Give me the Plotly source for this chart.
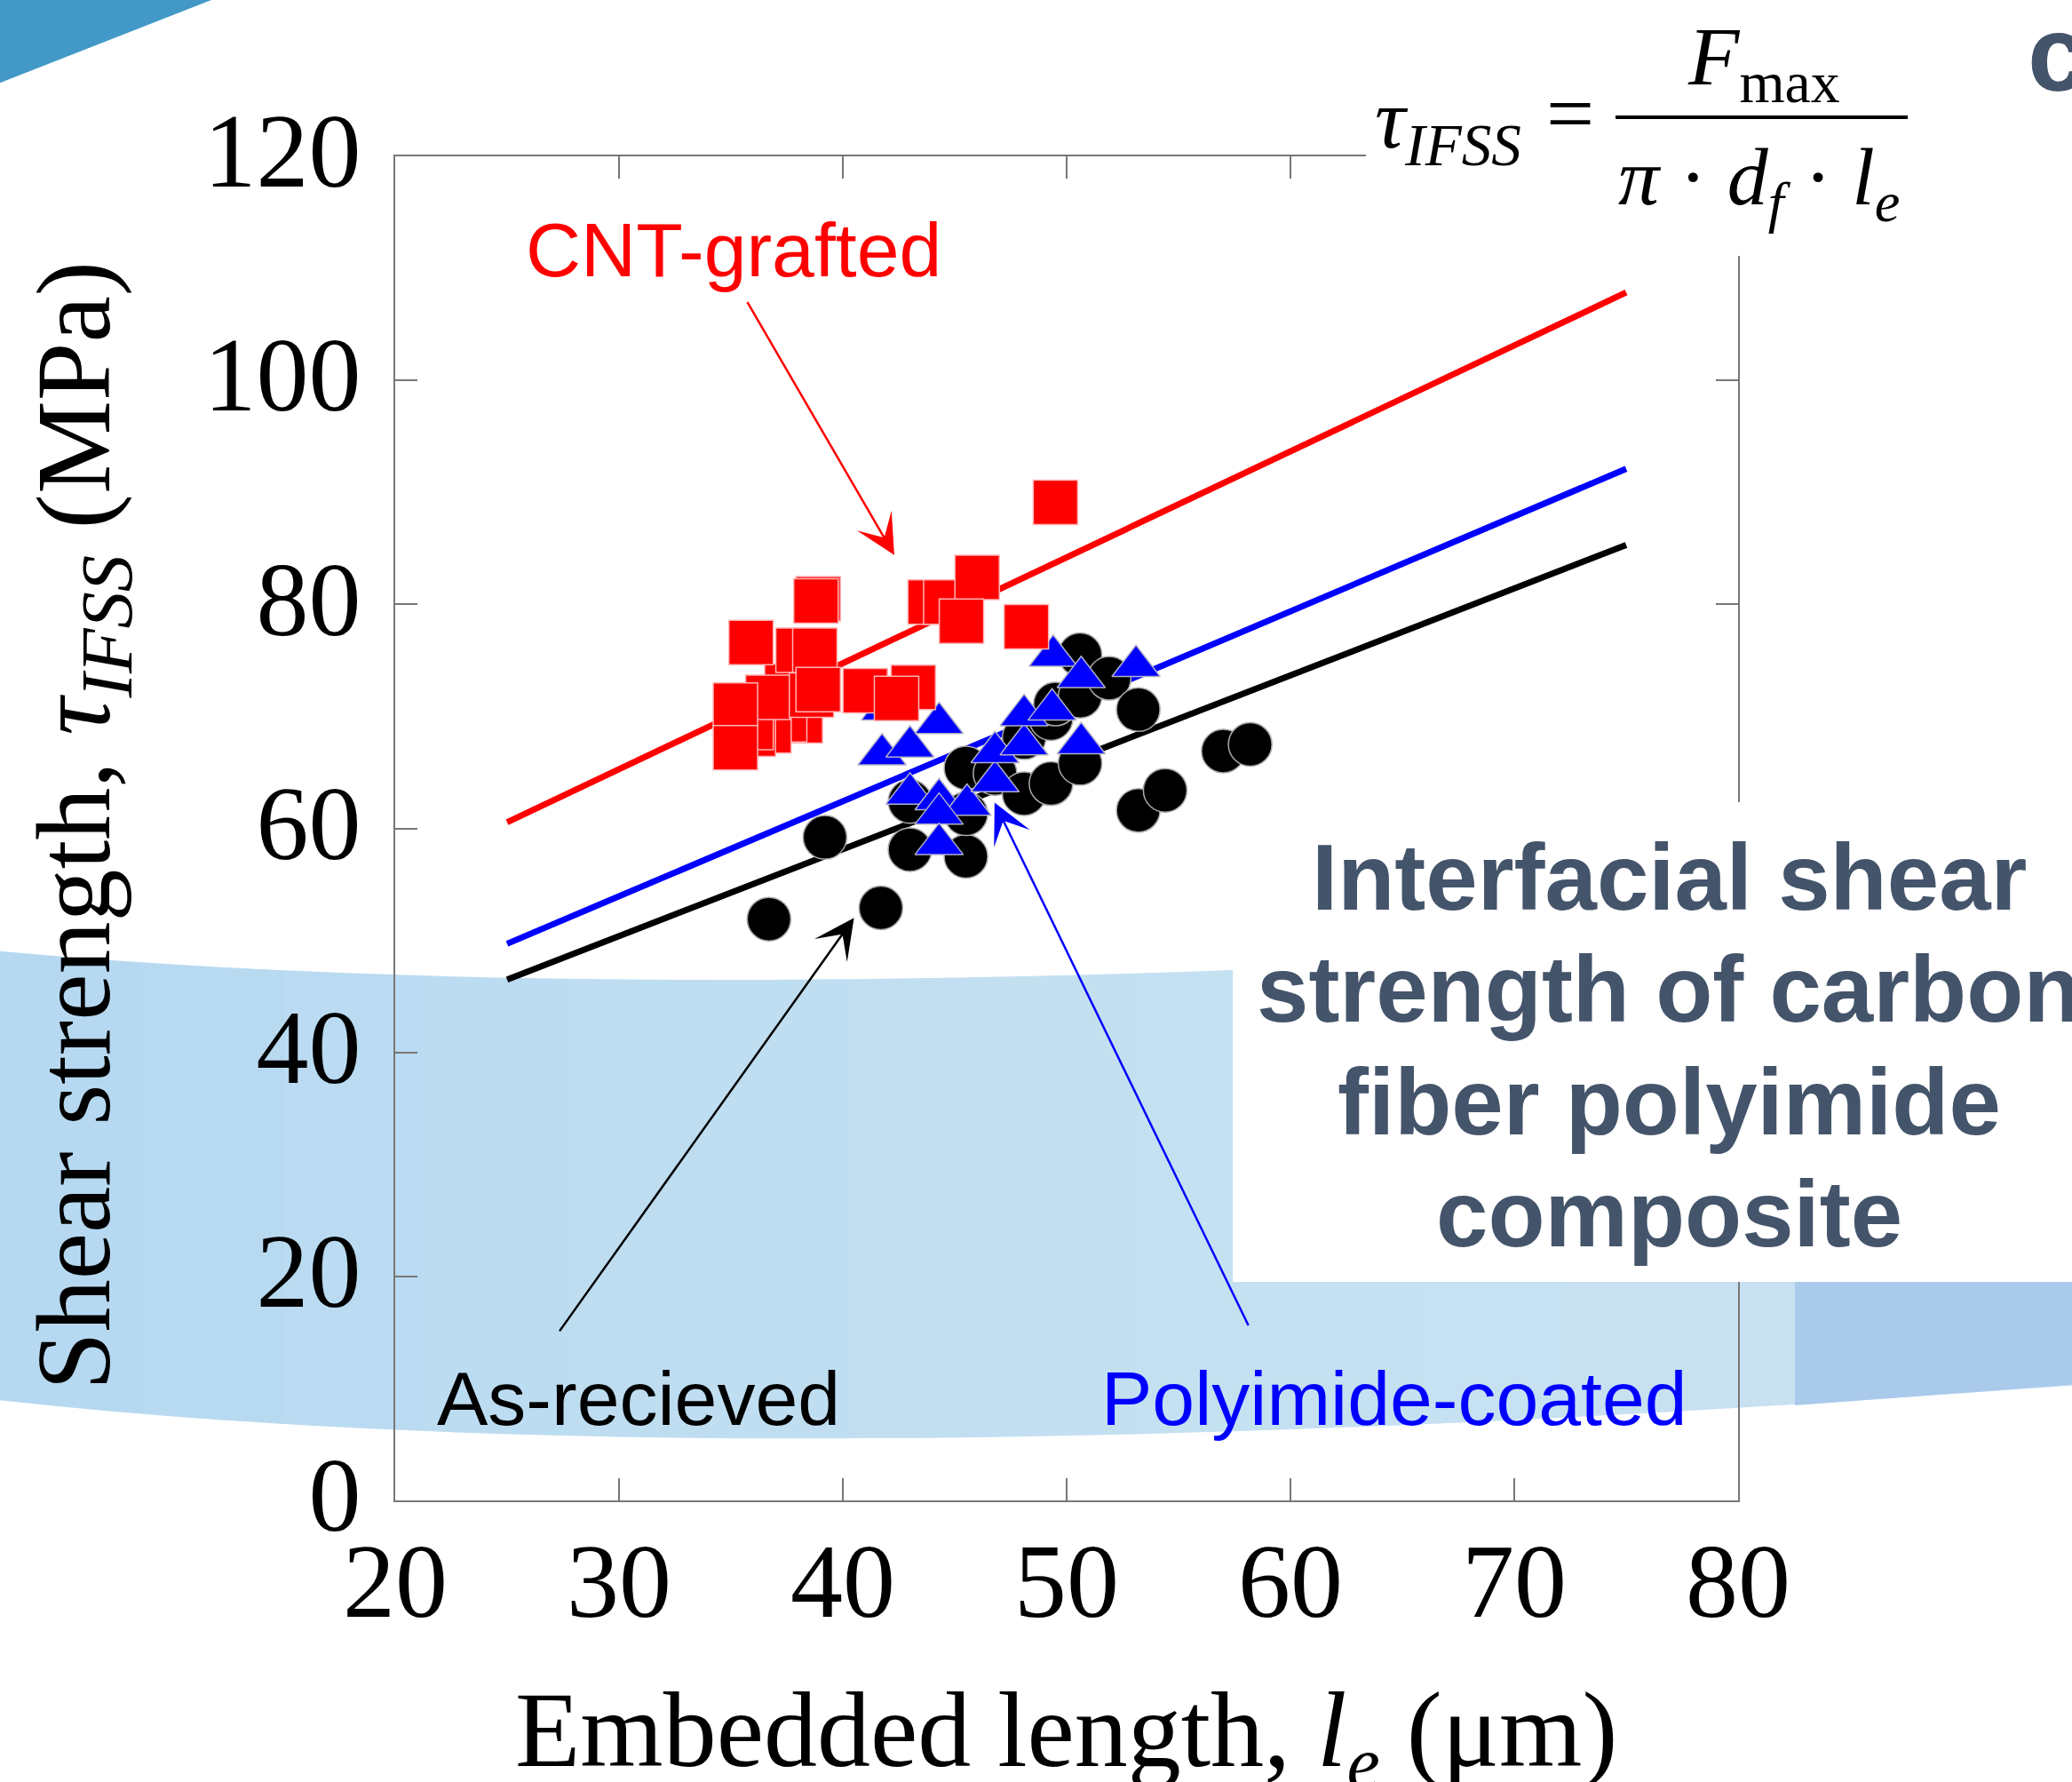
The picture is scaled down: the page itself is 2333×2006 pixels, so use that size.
import plotly.graph_objects as go

# ---------------- data ----------------
fit_x = [25, 75]
fit_red = [60.55, 107.85]
fit_blue = [49.7, 92.1]
fit_black = [46.5, 85.3]

as_received_x = [36.7, 41.7, 39.2, 43.0, 45.5, 43.0, 45.5, 45.5, 46.8, 48.1, 49.3, 50.6,
                 48.1, 49.3, 49.5, 50.6, 50.6, 51.9, 53.2, 53.2, 54.4, 57.0, 58.2]
as_received_y = [51.9, 52.9, 59.2, 58.1, 57.5, 62.4, 61.3, 65.4, 64.9, 63.1, 64.0, 65.8,
                 68.1, 69.8, 71.1, 71.8, 75.5, 73.4, 70.6, 61.6, 63.4, 66.9, 67.5]

polyimide_x = [41.9, 41.75, 43.0, 44.3, 43.0, 44.3, 45.55, 44.3, 44.3, 46.8, 46.8, 48.1,
               48.1, 49.35, 50.65, 49.4, 50.65, 53.1]
polyimide_y = [70.6, 66.6, 67.3, 69.4, 63.1, 62.6, 62.1, 61.3, 58.6, 64.2, 66.8, 67.5,
               70.1, 70.6, 67.6, 75.4, 73.5, 74.5]

cnt_x = [38.1, 37.4, 36.7, 36.0, 35.9, 37.5, 36.65, 35.2, 35.2, 35.9, 38.0, 38.75, 38.9,
         38.8, 38.6, 38.9, 41.0, 43.15, 42.4, 43.9, 44.6, 46.0, 45.3, 48.2, 49.5]
cnt_y = [69.6, 69.7, 68.7, 68.4, 69.0, 72.7, 71.7, 71.0, 67.2, 76.6, 75.9, 75.9, 80.5,
         80.3, 71.9, 72.4, 72.3, 72.6, 71.6, 80.2, 80.2, 82.4, 78.5, 78.0, 89.1]

x_ticks = [20, 30, 40, 50, 60, 70, 80]
y_ticks = [0, 20, 40, 60, 80, 100, 120]

# arrows: (tip_x, tip_y, tail_x, tail_y)
arrow_cnt = (42.3, 84.4, 35.7, 107.1)
arrow_asr = (40.5, 52.0, 27.3, 15.0)
arrow_pi = (46.78, 62.3, 58.15, 15.5)

# ---------------- geometry helpers (pixel -> paper) ----------------
W, H = 2333, 2006
L, R, T, B = 445, 1957, 176, 1689   # plot area in pixels


def px(x):
    return (x - L) / (R - L)


def py(y):
    return (B - y) / (B - T)


def pt(x, y):
    return f"{px(x):.5f},{py(y):.5f}"


fig = go.Figure()

for ys, col in [(fit_red, "#ff0000"), (fit_blue, "#0000ff"), (fit_black, "#000000")]:
    fig.add_trace(go.Scatter(x=fit_x, y=ys, mode="lines",
                             line=dict(color=col, width=7),
                             hoverinfo="skip", showlegend=False))

fig.add_trace(go.Scatter(x=as_received_x, y=as_received_y, mode="markers",
                         marker=dict(symbol="circle", size=49, color="#000000",
                                     line=dict(color="#a8a8a8", width=1.5)),
                         showlegend=False))
fig.add_trace(go.Scatter(x=polyimide_x, y=polyimide_y, mode="markers",
                         marker=dict(symbol="triangle-up", size=47, color="#0000ff",
                                     line=dict(color="#b0b0c8", width=1.5)),
                         showlegend=False))
fig.add_trace(go.Scatter(x=cnt_x, y=cnt_y, mode="markers",
                         marker=dict(symbol="square", size=50, color="#ff0000",
                                     line=dict(color="#ffb4b4", width=1.5)),
                         showlegend=False))

shapes = []
# top-left triangle
shapes.append(dict(type="path", xref="paper", yref="paper", layer="below",
                   path=f"M{pt(-20,-20)} L{pt(280,-20)} L{pt(238,0)} L{pt(-20,101)} Z",
                   fillcolor="#4299c8", line=dict(width=0)))
# light blue curved band
band = (f"M{pt(-20,1069)} Q{pt(834,1150)} {pt(2353,1038)} "
        f"L{pt(2353,1558)} Q{pt(834,1672)} {pt(-20,1574)} Z")
shapes.append(dict(type="path", xref="paper", yref="paper", layer="below",
                   path=band, fillcolor="#b6d9f1", line=dict(width=0)))
# gradient lightening
for i in range(1, 13):
    shapes.append(dict(type="rect", xref="paper", yref="paper", layer="below",
                       x0=px(i * 160), x1=px(2021), y0=py(1690), y1=py(1020),
                       fillcolor="white", opacity=0.03, line=dict(width=0)))
# darker blue region on the right
shapes.append(dict(type="path", xref="paper", yref="paper", layer="below",
                   path=f"M{pt(2021,1300)} L{pt(2353,1300)} L{pt(2353,1557)} L{pt(2021,1582)} Z",
                   fillcolor="#aacaeb", line=dict(width=0)))
# white text box
shapes.append(dict(type="rect", xref="paper", yref="paper", layer="above",
                   x0=px(1388), x1=px(2400), y0=py(1443), y1=py(903),
                   fillcolor="white", line=dict(width=0)))
# white formula box
shapes.append(dict(type="rect", xref="paper", yref="paper", layer="above",
                   x0=px(1538), x1=px(2268), y0=py(288), y1=py(-20),
                   fillcolor="white", line=dict(width=0)))
# fraction bar
shapes.append(dict(type="line", xref="paper", yref="paper", layer="above",
                   x0=px(1819), x1=px(2148), y0=py(132), y1=py(132),
                   line=dict(color="black", width=4)))

serif = "Liberation Serif"
sans = "Liberation Sans"
ann = []


def text(x, y, s, size, color="black", family=serif, xanchor="center", yanchor="middle", angle=0):
    ann.append(dict(x=px(x), y=py(y), xref="paper", yref="paper", text=s, showarrow=False,
                    font=dict(family=family, size=size, color=color),
                    xanchor=xanchor, yanchor=yanchor, textangle=angle))


# axis titles
text(1200, 1956, "Embedded length, <i>l</i><sub><i>e</i></sub> (μm)", 120)
text(92, 930, "Shear strength, <i>τ</i><sub><i>IFSS</i></sub> (MPa)", 118, angle=-90)

# series labels
text(826, 281, "CNT-grafted", 86, "#ff0000", sans)
text(719, 1574, "As-recieved", 86, "#000000", sans)
text(1570, 1574, "Polyimide-coated", 86, "#0000ff", sans)

# description
desc_col = "#44546a"
for s, yb in [("Interfacial shear", 1024), ("strength of carbon", 1150),
              ("fiber polyimide", 1277), ("composite", 1403)]:
    text(1879, yb - 37, f"<b>{s}</b>", 105, desc_col, sans)
text(2281, 60, "<b>c</b>", 120, desc_col, sans, xanchor="left")

# formula
text(1546, 140, "<i>τ</i><sub><i>IFSS</i></sub>", 96, xanchor="left")
text(1768, 128, "=", 96)
text(1986, 70, "<i>F</i><sub>max</sub>", 94)
text(1980, 206, "<i>π</i> · <i>d</i><sub><i>f</i></sub> · <i>l</i><sub><i>e</i></sub>", 92)

# arrows
for (tx, ty, sx, sy), col in [(arrow_cnt, "#ff0000"), (arrow_asr, "#000000"), (arrow_pi, "#0000ff")]:
    ann.append(dict(x=tx, y=ty, xref="x", yref="y", ax=sx, ay=sy, axref="x", ayref="y",
                    text="", showarrow=True, arrowhead=3, arrowsize=3, arrowwidth=2.5,
                    arrowcolor=col, standoff=0, startstandoff=0))

axis_common = dict(showgrid=False, zeroline=False, showline=True, linecolor="#777777",
                   linewidth=2, mirror="ticks", ticks="inside", ticklen=25, tickwidth=2,
                   tickcolor="#777777", tickfont=dict(family=serif, size=118, color="black"))

fig.update_layout(
    width=W, height=H, autosize=False,
    margin=dict(l=L, r=W - R, t=T, b=H - B, pad=0),
    paper_bgcolor="white", plot_bgcolor="rgba(0,0,0,0)",
    showlegend=False,
    xaxis=dict(range=[20, 80], tickvals=x_ticks, ticklabelstandoff=-13, **axis_common),
    yaxis=dict(range=[0, 120], tickvals=y_ticks, ticklabelstandoff=13, ticklabelshift=-7,
               **axis_common),
    shapes=shapes, annotations=ann,
)

fig.write_html("out.html", config={"displayModeBar": False},
               post_script="document.body.style.margin='0px';")
